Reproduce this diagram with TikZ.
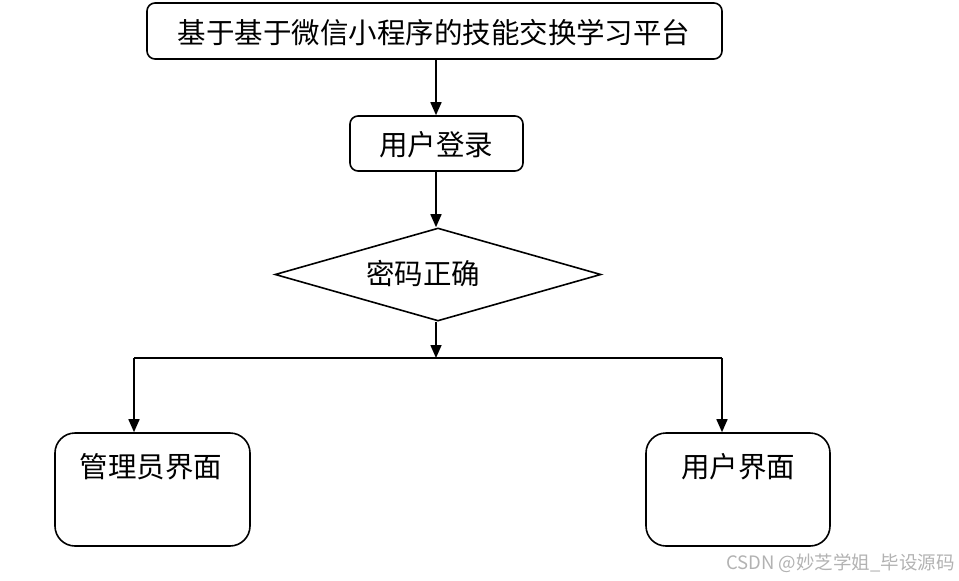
\documentclass[tikz,border=0pt]{standalone}
\usepackage{fontspec}
\newfontfamily\cjk{Noto Sans CJK SC}
\usetikzlibrary{arrows.meta,shapes.geometric}
\begin{document}
\begin{tikzpicture}[x=1pt,y=-1pt,
  box/.style={draw,line width=1.6pt,rounded corners=8pt,inner sep=0pt},
  bigbox/.style={draw,line width=1.6pt,rounded corners=20pt,inner sep=0pt},
  txt/.style={font=\cjk\fontsize{28.5}{32}\selectfont,inner sep=0pt},
  conn/.style={line width=1.6pt,-{Triangle[length=13pt,width=11pt]}},
  ln/.style={line width=1.6pt}]
\useasboundingbox (0,0) rectangle (959,581);
\node[box,minimum width=575pt,minimum height=56pt] (top) at (434.5,31) {};
\node[txt] (toptxt) at (434,33) {基于基于微信小程序的技能交换学习平台};
\node[box,minimum width=173pt,minimum height=55pt] (login) at (436.5,143.5) {};
\node[txt] (logintxt) at (436,145) {用户登录};
\node[diamond,draw,line width=1.6pt,minimum width=326pt,minimum height=93pt,inner sep=0pt] (dia) at (438,274.5) {};
\node[txt] (diatxt) at (423,274) {密码正确};
\coordinate (j) at (436,358);
\coordinate (jl) at (134,358);
\coordinate (jr) at (722,358);
\node[bigbox,minimum width=195pt,minimum height=113pt] (adm) at (152.5,489.5) {};
\node[txt] (admtxt) at (151,467) {管理员界面};
\node[bigbox,minimum width=184pt,minimum height=113pt] (usr) at (738,489.5) {};
\node[txt] (usrtxt) at (738,467) {用户界面};
\draw[conn] (top.south -| 436,0) -- (login.north -| 436,0);
\draw[conn] (login.south -| 436,0) -- (dia.north -| 436,0);
\draw[conn] (dia.south -| 436,0) -- (j);
\draw[ln] (jl) -- (jr);
\draw[conn] (jl) -- (adm.north -| jl);
\draw[conn] (jr) -- (usr.north -| jr);
\node[font=\cjk\fontsize{18.5}{20}\selectfont,text=black!30,anchor=east,inner sep=0pt] (wm) at (955,563) {CSDN @妙芝学姐\_毕设源码};
\end{tikzpicture}
\end{document}
